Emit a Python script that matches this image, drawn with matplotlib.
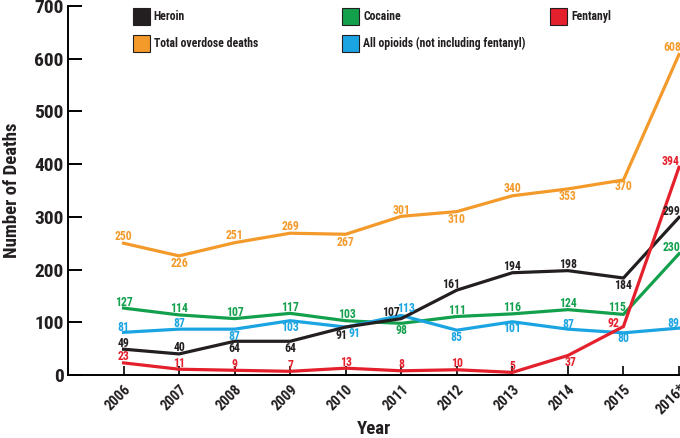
#!/usr/bin/env python3

import matplotlib
matplotlib.use("Agg")
import matplotlib.pyplot as plt
from matplotlib.patches import Rectangle

years = [2006, 2007, 2008, 2009, 2010, 2011, 2012, 2013, 2014, 2015, 2016]
year_labels = ["2006", "2007", "2008", "2009", "2010", "2011", "2012", "2013", "2014", "2015", "2016*"]

total = [250, 226, 251, 269, 267, 301, 310, 340, 353, 370, 608]
heroin = [49, 40, 64, 64, 91, 107, 161, 194, 198, 184, 299]
cocaine = [127, 114, 107, 117, 103, 98, 111, 116, 124, 115, 230]
opioids = [81, 87, 87, 103, 91, 113, 85, 101, 87, 80, 89]
fentanyl = [23, 11, 9, 7, 13, 8, 10, 5, 37, 92, 394]

ORANGE = "#f39a2b"
BLACK = "#231f20"
GREEN = "#13a04d"
BLUE = "#1ba4e2"
RED = "#e3202c"

# label offsets in pixels (dx, dy)
total_off = [(0, 7), (0, -8), (0, 7), (0, 7), (0, -8), (0, 6), (0, -8), (0, 7), (0, -8), (0, -7), (-7, 7)]
heroin_off = [(0, 6), (0, 6), (0, -7), (0, -7), (-4, -8), (-10, 6), (-6, 6), (0, 6), (0, 6), (0, -7), (-7, 6)]
cocaine_off = [(0, 6), (0, 6), (0, 6), (0, 6), (1, 6), (0, -7), (0, 6), (0, 6), (0, 6), (-6, 7), (-7, 6)]
opioids_off = [(0, 5), (0, 6), (0, -7), (0, -7), (9, -6), (5, 7), (0, -7), (0, -7), (0, 5), (0, -6), (-6, 5)]
fentanyl_off = [(0, 6), (0, 6), (0, 6), (0, 6), (0, 6), (0, 6), (0, 6), (0, 6), (3, -7), (-10, 3), (-8, 6)]

FONT = ["Roboto Condensed", "DejaVu Sans"]


def main():
    plt.rcParams["font.family"] = FONT
    plt.rcParams["font.weight"] = "bold"

    fig = plt.figure(figsize=(6.8, 4.38), dpi=100)
    ax = fig.add_axes([0.1, 0.1438, 0.8985, 0.8425])

    series = [
        (total, ORANGE, total_off),
        (cocaine, GREEN, cocaine_off),
        (opioids, BLUE, opioids_off),
        (heroin, BLACK, heroin_off),
        (fentanyl, RED, fentanyl_off),
    ]
    for vals, col, offs in series:
        ax.plot(years, vals, color=col, lw=2.3, clip_on=False, solid_joinstyle="miter")
    for vals, col, offs in series:
        for x, y, (dx, dy) in zip(years, vals, offs):
            ax.annotate(str(y), (x, y), xytext=(dx, dy), textcoords="offset pixels",
                        ha="center", va="center", color=col, fontsize=8.5,
                        fontweight="bold", annotation_clip=False)

    ax.set_xlim(2005, 2016)
    ax.set_ylim(0, 700)
    ax.spines["top"].set_visible(False)
    ax.spines["right"].set_visible(False)
    ax.spines["left"].set_linewidth(1.4)
    ax.spines["bottom"].set_linewidth(1.4)

    ax.set_yticks(range(0, 701, 100))
    ax.tick_params(axis="y", direction="in", length=10, width=1.4, labelsize=14, pad=3)
    ax.set_xticks(years)
    ax.set_xticklabels(year_labels, rotation=45, ha="right", rotation_mode="anchor")
    ax.tick_params(axis="x", direction="in", length=6.5, width=1.2, labelsize=10.5, pad=5)
    for lab in ax.get_xticklabels() + ax.get_yticklabels():
        lab.set_fontweight("bold")
        lab.set_color(BLACK)

    ax.set_ylabel("Number of Deaths", fontsize=13.5, fontweight="bold", color=BLACK, labelpad=10)
    ax.set_xlabel("Year", fontsize=13.5, fontweight="bold", color=BLACK, labelpad=2)

    # legend, drawn in axes fraction
    legend = [
        ("Heroin", BLACK, 0.106, 0.0),
        ("Total overdose deaths", ORANGE, 0.106, 1.0),
        ("Cocaine", GREEN, 0.449, 0.0),
        ("All opioids (not including fentanyl)", BLUE, 0.449, 1.0),
        ("Fentanyl", RED, 0.789, 0.0),
    ]
    for text, col, x0, row in legend:
        w = 17 / (0.8985 * 680)
        h = 17 / (0.8425 * 438)
        yc = 1 - (10 + 27 * row) / (0.8425 * 438)
        ax.add_patch(Rectangle((x0, yc - h / 2), w, h, transform=ax.transAxes,
                               facecolor=col, edgecolor=BLACK, lw=0.8, clip_on=False))
        ax.text(x0 + w + 4 / (0.8985 * 680), yc, text, transform=ax.transAxes,
                ha="left", va="center", fontsize=8.5, fontweight="bold", color=BLACK)

    fig.savefig("out.png", dpi=100)


if __name__ == '__main__':
    main()
